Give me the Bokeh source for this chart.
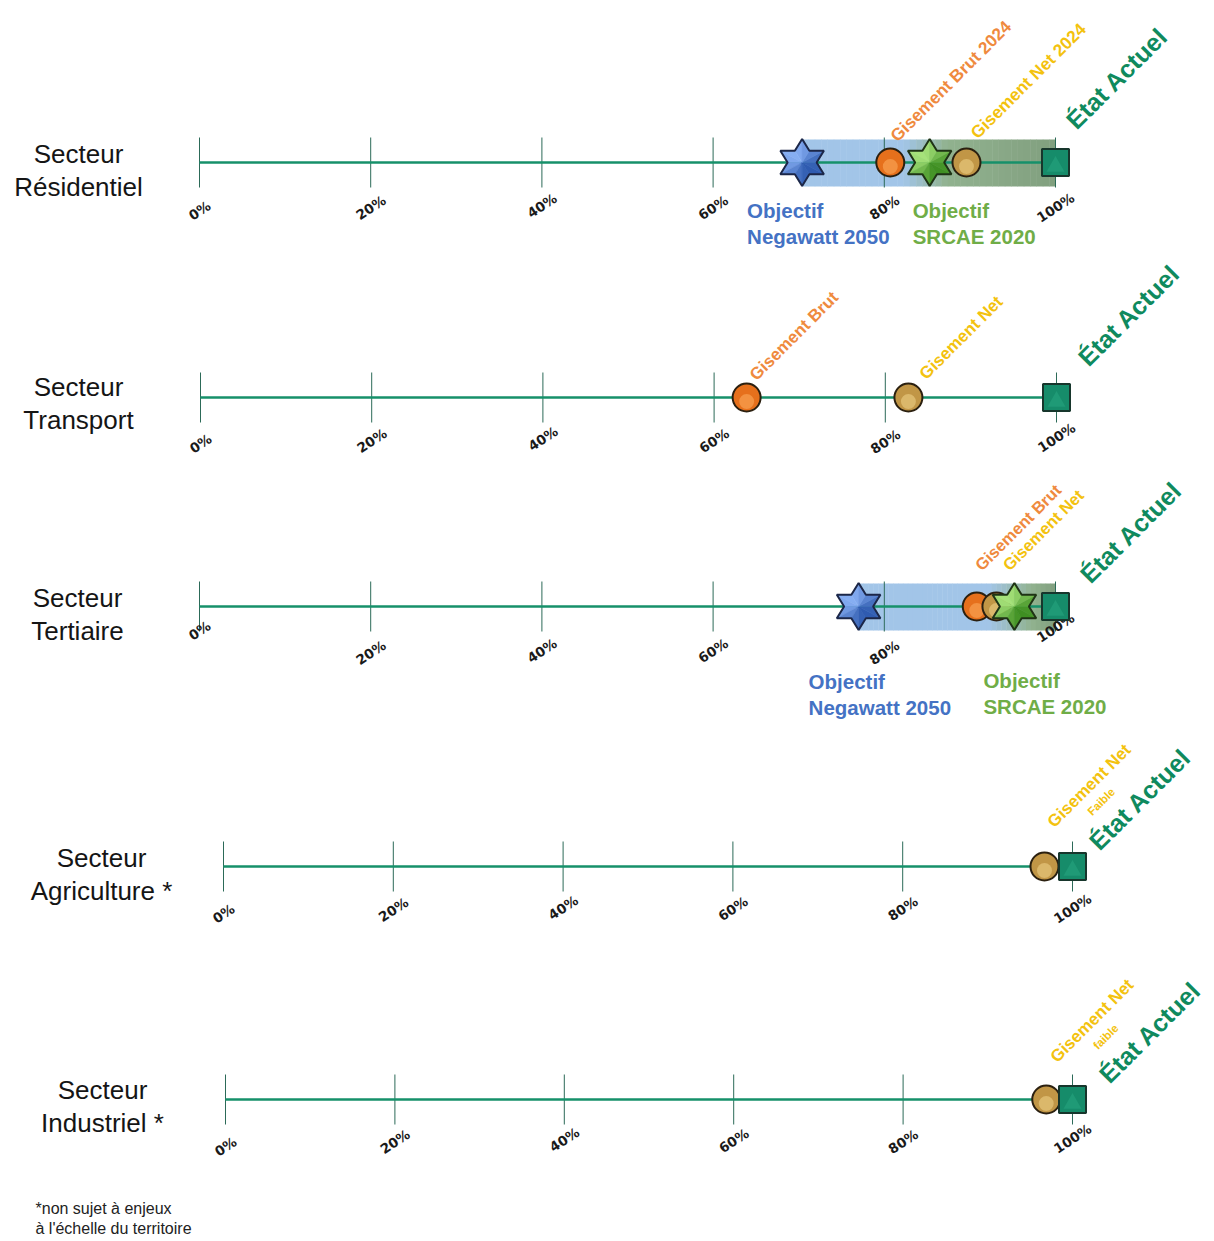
import math
import numpy as np
from bokeh.plotting import figure
from bokeh.layouts import column
from bokeh.models import Range1d
from bokeh.core.properties import value
from bokeh.embed import file_html
from bokeh.resources import INLINE

# ------------------------------------------------------------------ data
sectors = ["Secteur\nRésidentiel", "Secteur\nTransport", "Secteur\nTertiaire",
           "Secteur\nAgriculture *", "Secteur\nIndustriel *"]
tick_values = [0, 20, 40, 60, 80, 100]
tick_labels = ["0%", "20%", "40%", "60%", "80%", "100%"]
etat_actuel = [100, 100, 100, 100, 100]
gisement_brut = [80.7, 63.8, 90.8, None, None]
gisement_net = [89.6, 82.7, 93.1, 96.7, 96.9]
objectif_negawatt = [70.4, None, 77.0, None, None]
objectif_srcae = [85.3, None, 95.2, None, None]
brut_labels = ["Gisement Brut 2024", "Gisement Brut", "Gisement Brut", None, None]
net_labels = ["Gisement Net 2024", "Gisement Net", "Gisement Net", "Gisement Net", "Gisement Net"]
net_notes = [None, None, None, "Faible", "faible"]
etat_label = "État Actuel"
negawatt_label = "Objectif\nNegawatt 2050"
srcae_label = "Objectif\nSRCAE 2020"
footnote = "*non sujet à enjeux\nà l'échelle du territoire"

# ------------------------------------------------------------------ layout (page pixels)
W = 1214
layouts = [
    dict(top=0, h=258, axis=162, x0=199, x100=1055, lab=(78, 170),
         tdy=[48, 45, 43, 45, 45, 45],
         brut=(3, 24, 17.3), net=(7, 27, 17.3), etat=(15, 38, 25),
         nega=(-55, -61), srcae=(-17, -61)),
    dict(top=258, h=220, axis=397, x0=200, x100=1056, lab=(78, 403),
         tdy=[46, 43, 41, 43, 44, 40],
         brut=(6, 20, 17), net=(14, 21, 17), etat=(26, 36, 25)),
    dict(top=478, h=252, axis=606, x0=199, x100=1055, lab=(77, 614),
         tdy=[24, 46, 44, 44, 46, 21],
         brut=(1, 39, 16.5), net=(9, 39, 16.5), etat=(29, 28, 25),
         nega=(-50, -88), srcae=(-31, -87)),
    dict(top=730, h=232, axis=866, x0=223, x100=1072, lab=(101, 874),
         tdy=[47, 43, 41, 42, 42, 42],
         net=(6, 42, 17), note=(45, 53, 11.5), etat=(21, 21, 25)),
    dict(top=962, h=279, axis=1099, x0=225, x100=1072, lab=(102, 1106),
         tdy=[47, 42, 40, 41, 42, 39],
         net=(7, 40, 17), note=(49, 52, 11.5), etat=(31, 21, 25),
         foot=(35, 1218)),
]

FONT = value("Liberation Sans")
LINE_C = "#16906a"
TICK_C = "#2c6a58"
ORANGE_T = "#ef8a3e"
YELLOW_T = "#f3c20f"
GREEN_T = "#0f8a5e"
BLUE_T = "#4472c4"
SRCAE_T = "#70ad47"


def hex2rgb(h):
    return tuple(int(h[i:i + 2], 16) for i in (1, 3, 5))


def mix(c1, c2, t):
    t = max(0.0, min(1.0, t))
    a, b = hex2rgb(c1), hex2rgb(c2)
    return "#%02x%02x%02x" % tuple(int(round(a[k] + (b[k] - a[k]) * t)) for k in range(3))


def hexagram(p, xc, s, dark, light, outline, R=23.5):
    rin = R / math.sqrt(3)
    verts = []
    for k in range(12):
        ang = math.radians(90 + 30 * k)
        rad = R if k % 2 == 0 else rin
        verts.append((rad * math.cos(ang) * 1.07, rad * math.sin(ang)))
    xs, ys, cols = [], [], []
    for k in range(12):
        v1, v2 = verts[k], verts[(k + 1) % 12]
        xs.append([xc, xc + v1[0] / s, xc + v2[0] / s])
        ys.append([0, v1[1], v2[1]])
        mid = math.radians(90 + 30 * k + 15)
        t = 0.5 + 0.5 * math.cos(mid - math.radians(135))
        cols.append(mix(dark, light, t))
    p.patches(xs, ys, fill_color=cols, line_color=cols, line_width=0.5)
    p.patch([xc + v[0] / s for v in verts], [v[1] for v in verts],
            fill_color=None, line_color=outline, line_width=2)


def ball(p, x, base, light):
    p.scatter([x], [0], marker="circle", size=28, fill_color=base,
              line_color="#2b2010", line_width=2)
    p.scatter([x], [-4], marker="circle", size=15, fill_color=light,
              fill_alpha=0.5, line_color=None)


def rot_text(p, x, spec, txt, color):
    dx, dy, fs = spec
    p.text([x], [dy], text=[txt], x_offset=dx, angle=math.pi / 4,
           text_align="left", text_baseline="alphabetic", text_font=FONT,
           text_font_style="bold", text_font_size=f"{fs}px", text_color=color)


figs = []
for i, L in enumerate(layouts):
    h = L["h"]
    a = L["axis"] - L["top"]
    s = (L["x100"] - L["x0"]) / 100.0
    x0f = L["x0"]
    p = figure(width=W, height=h, x_range=Range1d(-x0f / s, (W - x0f) / s),
               y_range=Range1d(-(h - a), a), output_backend="svg",
               toolbar_location=None, min_border=0, title=None,
               x_axis_type=None, y_axis_type=None)
    p.outline_line_color = None
    p.background_fill_color = "white"
    p.border_fill_color = "white"

    def px2d(px):
        return (px - L["x0"]) / s

    neg = objectif_negawatt[i]
    brut = gisement_brut[i]
    net = gisement_net[i]
    src = objectif_srcae[i]
    act = etat_actuel[i]

    # band between Negawatt objective and current state, blue -> grey-green
    if neg is not None:
        blue = "#a2c5e8"
        green0 = "#91b28f"
        green1 = "#819f7f"
        n = 40
        edges = np.linspace(neg, act, n + 1)
        cols = []
        for k in range(n):
            xm = (edges[k] + edges[k + 1]) / 2
            if xm < src - 3:
                cols.append(blue)
            elif xm < src + 2:
                cols.append(mix(blue, green0, (xm - (src - 3)) / 5))
            else:
                cols.append(mix(green0, green1, (xm - (src + 2)) / (act - src - 2)))
        p.quad(left=edges[:-1], right=edges[1:] + 0.05, bottom=-24, top=23,
               fill_color=cols, line_color=None)

    # ticks
    p.segment(x0=tick_values, y0=[-25] * 6, x1=tick_values, y1=[25] * 6,
              line_color=TICK_C, line_width=1)
    # axis line
    p.line([0, act], [0, 0], line_color=LINE_C, line_width=2.5)
    # tick labels
    p.text(tick_values, [-d for d in L["tdy"]], text=tick_labels, angle=0.58,
           text_align="center", text_baseline="middle",
           text_font=value("DejaVu Sans"), text_font_style="bold",
           text_font_size="13.5px", text_color="#1a1a1a")

    # sector label
    lx, ly = L["lab"]
    p.text([px2d(lx)], [L["axis"] - ly], text=[sectors[i]], text_align="center",
           text_baseline="middle", text_font=FONT, text_font_size="26px",
           text_line_height=1.07, text_color="#151515")

    # markers
    if neg is not None:
        hexagram(p, neg, s, "#2f5bb0", "#86aef2", "#1c2748")
    if brut is not None:
        ball(p, brut, "#e6701c", "#ffb466")
    if net is not None:
        ball(p, net, "#c19646", "#f6da90")
    if src is not None:
        hexagram(p, src, s, "#3f8f22", "#a6e27a", "#1f3316")
    p.scatter([act], [0], marker="square", size=27, fill_color="#168c6a",
              line_color="#17362c", line_width=2)
    p.scatter([act], [-4], marker="triangle", size=18, fill_color="#3cc49a",
              fill_alpha=0.25, line_color=None)

    # rotated labels
    if brut is not None:
        rot_text(p, brut, L["brut"], brut_labels[i], ORANGE_T)
    if net is not None:
        rot_text(p, net, L["net"], net_labels[i], YELLOW_T)
    if net_notes[i] is not None:
        rot_text(p, net, L["note"], net_notes[i], YELLOW_T)
    rot_text(p, act, L["etat"], etat_label, GREEN_T)

    # objective labels
    if neg is not None:
        dx, dy = L["nega"]
        p.text([neg], [dy], text=[negawatt_label], x_offset=dx, text_align="left",
               text_baseline="middle", text_font=FONT, text_font_style="bold",
               text_font_size="20.5px", text_line_height=1.15, text_color=BLUE_T)
    if src is not None:
        dx, dy = L["srcae"]
        p.text([src], [dy], text=[srcae_label], x_offset=dx, text_align="left",
               text_baseline="middle", text_font=FONT, text_font_style="bold",
               text_font_size="20.5px", text_line_height=1.15, text_color=SRCAE_T)

    if "foot" in L:
        fx, fy = L["foot"]
        p.text([px2d(fx)], [L["axis"] - fy], text=[footnote], text_align="left",
               text_baseline="middle", text_font=FONT, text_font_size="16px",
               text_line_height=1.19, text_color="#222222")
    figs.append(p)

layout = column(*figs, spacing=0)
open("out.html", "w").write(file_html(layout, INLINE))
